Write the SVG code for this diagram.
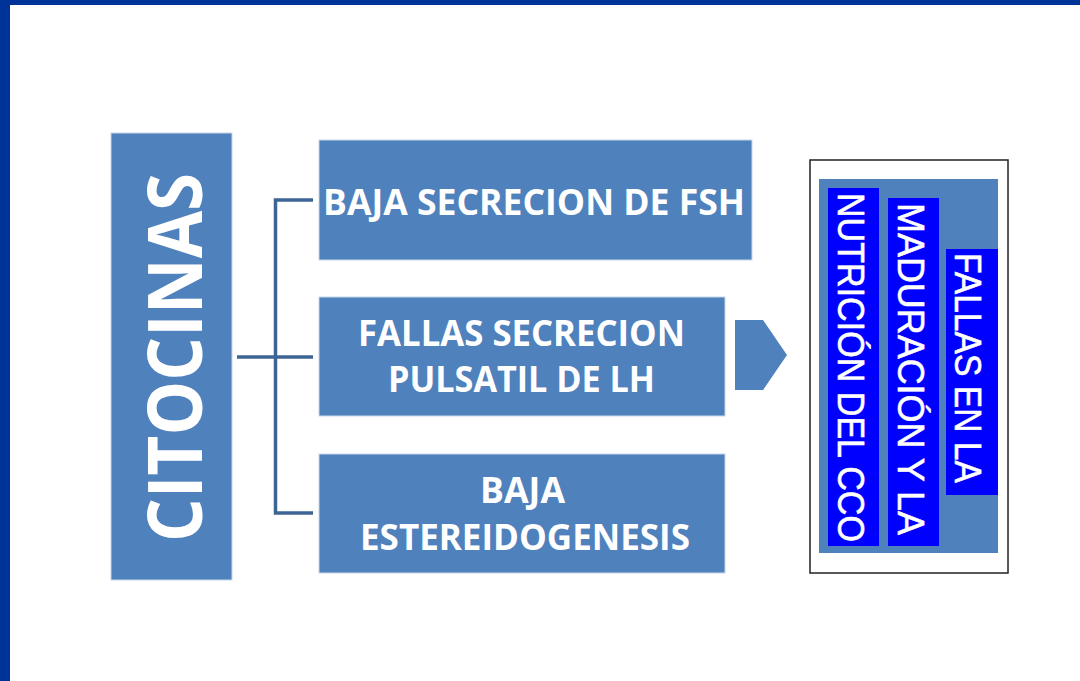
<svg xmlns="http://www.w3.org/2000/svg" width="1080" height="681" viewBox="0 0 1080 681">
<style>
.box{fill:#4F81BD;stroke:#C9D6EA;stroke-width:1}
.bt{font-family:"Open Sans","Liberation Sans",sans-serif;font-weight:bold;fill:#FFFFFF;font-size:35px;text-anchor:middle}
.vt{font-family:"Liberation Sans","Arial",sans-serif;fill:#FFFFFF;stroke:#FFFFFF;stroke-width:0.6;font-size:37px;text-anchor:middle}
.blue{fill:#0000FF}
.conn{fill:none;stroke:#3D6594;stroke-width:3.5}
</style>
<rect x="0" y="0" width="1080" height="681" fill="#FFFFFF"/>
<rect x="0" y="0" width="1080" height="5" fill="#003399"/>
<rect x="0" y="0" width="10" height="681" fill="#003399"/>

<g id="citocinas">
<rect class="box" x="111" y="133" width="121" height="447"/>
<text font-family="Open Sans, Liberation Sans, sans-serif" font-weight="bold" font-size="76" fill="#FFFFFF" text-anchor="middle" textLength="369" lengthAdjust="spacingAndGlyphs" transform="translate(202,357.5) rotate(-90)">CITOCINAS</text>
</g>

<g id="connectors">
<path class="conn" d="M313,200 H275.5 V513 H313"/>
<path class="conn" d="M237,357 H313"/>
</g>

<g id="fsh">
<rect class="box" x="319" y="140" width="433" height="120"/>
<text class="bt" x="534" y="215" textLength="422" lengthAdjust="spacingAndGlyphs">BAJA SECRECION DE FSH</text>
</g>

<g id="lh">
<rect class="box" x="319" y="297" width="406" height="119"/>
<text class="bt" x="521.5" y="346" textLength="327" lengthAdjust="spacingAndGlyphs">FALLAS SECRECION</text>
<text class="bt" x="521.5" y="392" textLength="267" lengthAdjust="spacingAndGlyphs">PULSATIL DE LH</text>
</g>

<g id="estereido">
<rect class="box" x="319" y="454" width="406" height="119"/>
<text class="bt" x="522.5" y="503" textLength="85" lengthAdjust="spacingAndGlyphs">BAJA</text>
<text class="bt" x="525" y="550" textLength="330" lengthAdjust="spacingAndGlyphs">ESTEREIDOGENESIS</text>
</g>

<g id="arrow">
<polygon points="735,320 763,320 787,355 763,390 735,390" fill="#4F81BD"/>
</g>

<g id="result">
<rect x="810" y="160" width="198" height="413" fill="#FFFFFF" stroke="#222222" stroke-width="1.5"/>
<rect x="819" y="179" width="179" height="374" fill="#4F81BD"/>
<rect class="blue" x="828" y="188" width="51" height="358"/>
<rect class="blue" x="888" y="198" width="51" height="348"/>
<rect class="blue" x="946" y="249" width="52" height="246"/>
<text class="vt" textLength="349" lengthAdjust="spacingAndGlyphs" transform="translate(838,367.5) rotate(90)">NUTRICIÓN DEL CCO</text>
<text class="vt" textLength="332" lengthAdjust="spacingAndGlyphs" transform="translate(898,369) rotate(90)">MADURACIÓN Y LA</text>
<text class="vt" textLength="230" lengthAdjust="spacingAndGlyphs" transform="translate(955,368) rotate(90)">FALLAS EN LA</text>
</g>
</svg>
